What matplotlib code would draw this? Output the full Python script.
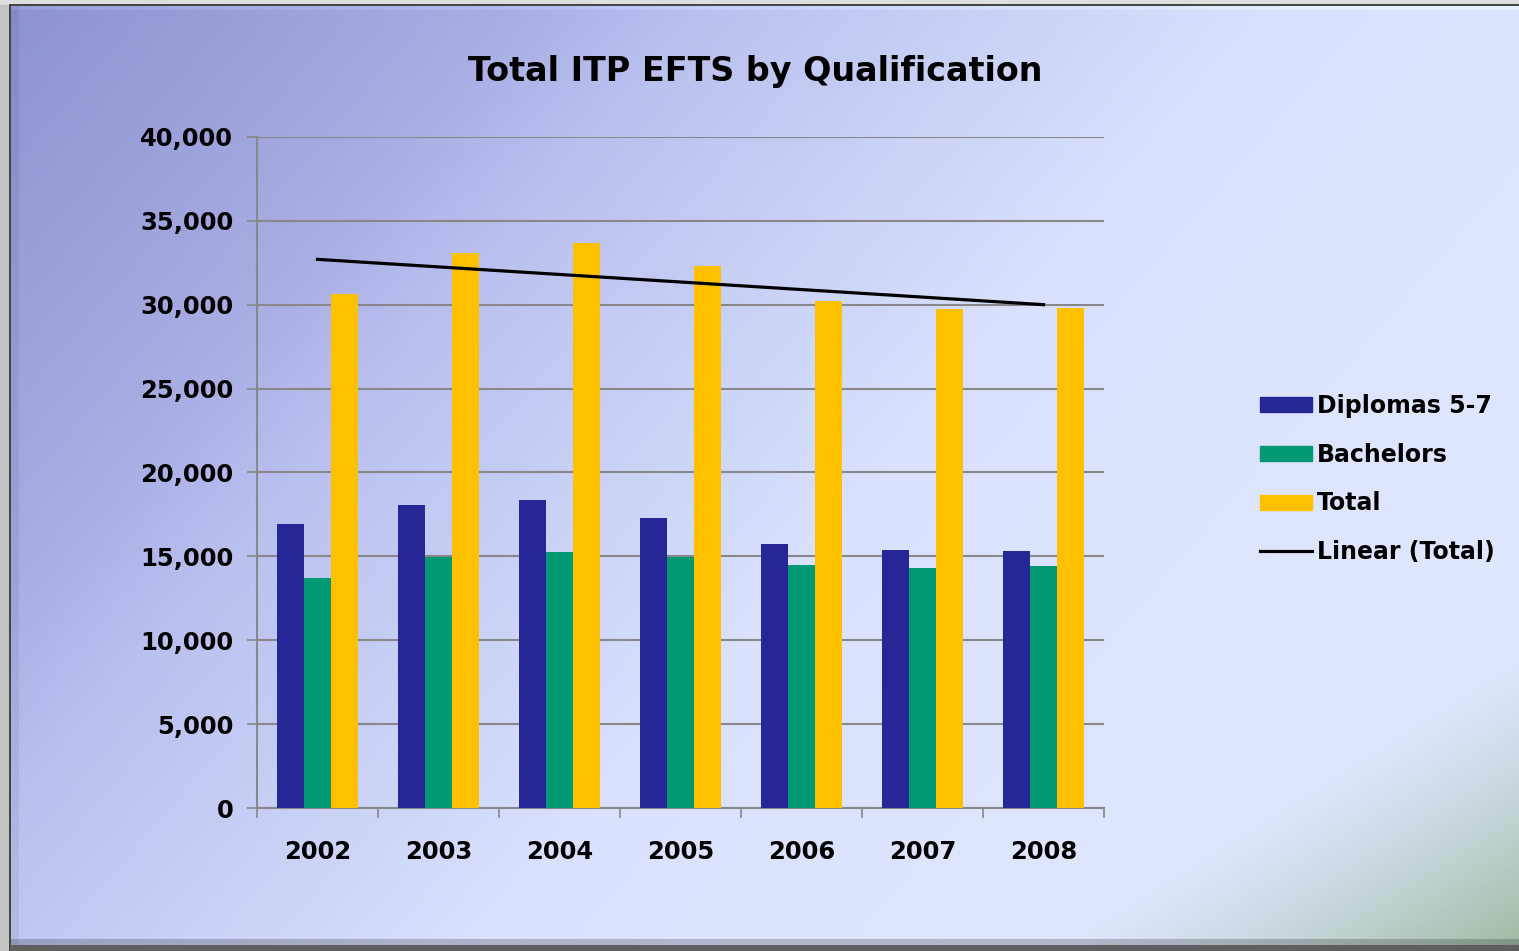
import numpy as np
import matplotlib
matplotlib.use("Agg")
import matplotlib.pyplot as plt
from matplotlib.patches import Patch
from matplotlib.lines import Line2D

years = ["2002", "2003", "2004", "2005", "2006", "2007", "2008"]
diplomas = [16930, 18060, 18360, 17290, 15740, 15380, 15330]
bachelors = [13710, 14960, 15260, 14960, 14490, 14310, 14430]
total = [30640, 33080, 33680, 32310, 30220, 29750, 29810]

W, H = 1519, 951
fig = plt.figure(figsize=(W / 100, H / 100), dpi=100)

# background: gradient panel, greenish in the bottom right corner, grey frame and bevel
yy, xx = np.mgrid[0:H, 0:W]
t = 0.65 * xx / W + 0.35 * yy / H
stops = [0.0, 0.22, 0.3, 0.55, 0.75, 1.0]
reds = [140, 168, 185, 217, 222, 222]
greens = [146, 173, 192, 225, 230, 230]
blues = [207, 227, 238, 253, 253, 253]
img = np.dstack([np.interp(t, stops, c) for c in (reds, greens, blues)])
g = np.clip((xx / W + yy / H - 1.68) / 0.32, 0, 1) ** 1.3
g = g[..., None]
img = img * (1 - g) + np.array([160, 185, 160]) * g
img[5:10, 11:, :] = np.clip(img[5:10, 11:, :] + 12, 0, 255)
img[5:, 11:19, :] = img[5:, 11:19, :] * 0.94
img[939:945, 11:, :] = img[939:945, 11:, :] * 0.8
img[:, :10, :] = 195
img[:5, :, :] = 222
img[4:6, 10:, :] = 70
img[4:, 9:11, :] = 70
img[945:, 10:, :] = 95
bg = fig.add_axes([0, 0, 1, 1])
bg.imshow(img.astype(np.uint8), aspect="auto", interpolation="bilinear")
bg.axis("off")

ax = fig.add_axes([257 / W, 1 - 808 / H, (1104 - 257) / W, (808 - 137) / H])
ax.patch.set_alpha(0)

x = np.arange(len(years))
bw = 0.223
ax.bar(x - bw, diplomas, bw, color="#262696", zorder=3)
ax.bar(x, bachelors, bw, color="#009973", zorder=3)
ax.bar(x + bw, total, bw, color="#FFC000", zorder=3)

k, b = np.polyfit(x, total, 1)
ax.plot(x, k * x + b, color="black", lw=2.3, zorder=4)

ax.set_xlim(-0.5, len(years) - 0.5)
ax.set_ylim(0, 40000)
ax.set_yticks(np.arange(0, 40001, 5000))
ax.set_yticklabels([f"{v:,}" for v in range(0, 40001, 5000)])
ax.set_xticks(np.arange(-0.5, len(years), 1.0))
ax.set_xticklabels([])
ax.set_xticks(x, minor=True)
ax.set_xticklabels(years, minor=True)
ax.tick_params(axis="x", which="major", length=7, color="#888888", width=1.2)
ax.tick_params(axis="x", which="minor", length=0, pad=23)
ax.tick_params(axis="y", length=7, color="#888888", width=1.2, pad=10)
for lab in ax.get_yticklabels() + ax.get_xticklabels(minor=True):
    lab.set_fontsize(17.5)
    lab.set_fontweight("bold")
ax.grid(axis="y", color="#888888", lw=1.5, zorder=1)
for s in ["top", "right"]:
    ax.spines[s].set_visible(False)
for s in ["left", "bottom"]:
    ax.spines[s].set_color("#888888")
    ax.spines[s].set_linewidth(1.5)

fig.text(755 / W, 1 - 71 / H, "Total ITP EFTS by Qualification", ha="center",
         va="center", fontsize=24, fontweight="bold")

handles = [Patch(color="#262696"), Patch(color="#009973"), Patch(color="#FFC000"),
           Line2D([0], [0], color="black", lw=2.3)]
labels = ["Diplomas 5-7", "Bachelors", "Total", "Linear (Total)"]
fig.legend(handles, labels, loc="center left", bbox_to_anchor=(1239 / W, 1 - 479 / H),
           frameon=False, prop={"size": 17, "weight": "bold"}, handlelength=2.2,
           handleheight=0.6, handletextpad=0.2, labelspacing=1.05)

fig.savefig("out.png", dpi=100)
